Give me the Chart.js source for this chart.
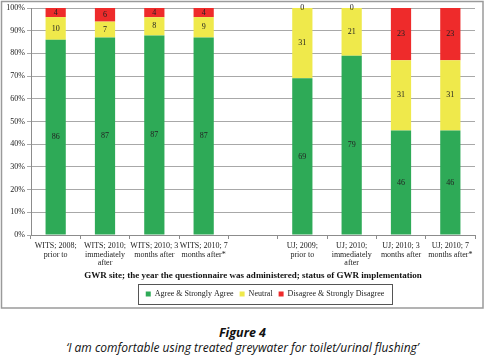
<!DOCTYPE html>
<html>
<head>
  <meta charset="utf-8" />
  <title>Figure 4</title>
  <script src="https://cdn.jsdelivr.net/npm/chart.js"></script>
  <style>
    html, body { margin: 0; padding: 0; background: #fff; }
    #wrap { position: relative; width: 485px; height: 358px; }
    #chartBox { position: absolute; left: 0; top: 0; width: 485px; height: 310px; }
    .cap { position: absolute; left: 0; width: 485px; text-align: center; font-family: "Open Sans", sans-serif; font-style: italic; color: #111; line-height: 16px; }
    #fig { top: 325px; font-size: 12.5px; font-weight: bold; }
    #sub { top: 340px; font-size: 12px; }
  </style>
</head>
<body>
<div id="wrap">
  <div id="chartBox"><canvas id="chart"></canvas></div>
  <div class="cap" id="fig">Figure 4</div>
  <div class="cap" id="sub">‘I am comfortable using treated greywater for toilet/urinal flushing’</div>
</div>
<script>
  const categories = [
    ['WITS; 2008;', 'prior to'],
    ['WITS; 2010;', 'immediately', 'after'],
    ['WITS; 2010; 3', 'months after'],
    ['WITS; 2010; 7', 'months after*'],
    '',
    ['UJ; 2009;', 'prior to'],
    ['UJ; 2010;', 'immediately', 'after'],
    ['UJ; 2010; 3', 'months after'],
    ['UJ; 2010; 7', 'months after*']
  ];
  const agree    = [86, 87, 87, 87, null, 69, 79, 46, 46];
  const neutral  = [10, 7, 8, 9, null, 31, 21, 31, 31];
  const disagree = [4, 6, 4, 4, null, 0, 0, 23, 23];

  const seriesNames = ['Agree & Strongly Agree', 'Neutral', 'Disagree & Strongly Disagree'];
  const seriesColors = ['#2eaa57', '#efe94b', '#ee2b2b'];

  // 100% stacked: each column is scaled to its own total
  const totals = agree.map((v, i) => v === null ? null : v + neutral[i] + disagree[i]);
  const pct = arr => arr.map((v, i) => v === null ? null : v / totals[i] * 100);
  const raw = [agree, neutral, disagree];

  const serif = '"Liberation Serif", "Times New Roman", serif';

  const decor = {
    id: 'decor',
    afterLayout(chart) {
      chart.legend.left += 12;
      chart.legend.right += 12;
    },
    afterDatasetsDraw(chart) {
      const ctx = chart.ctx;
      ctx.save();
      ctx.font = '8px ' + serif;
      ctx.fillStyle = '#222';
      ctx.textAlign = 'center';
      ctx.textBaseline = 'middle';
      chart.data.datasets.forEach((ds, di) => {
        chart.getDatasetMeta(di).data.forEach((el, i) => {
          const v = raw[di][i];
          if (v === null) return;
          ctx.fillText(String(v), el.x, (el.y + el.base) / 2);
        });
      });
      ctx.restore();
    },
    afterDraw(chart) {
      const ctx = chart.ctx;
      ctx.save();
      // outer frame
      ctx.strokeStyle = '#9a9a9a';
      ctx.lineWidth = 1.5;
      ctx.strokeRect(1.5, 1.5, 481.5, 306.5);
      // legend frame
      const boxes = chart.legend.legendHitBoxes;
      if (boxes && boxes.length) {
        const l = boxes[0].left - 8;
        const last = boxes[boxes.length - 1];
        const r = last.left + last.width + 8;
        const t = boxes[0].top - 6;
        const b = boxes[0].top + boxes[0].height + 6;
        ctx.strokeStyle = '#555';
        ctx.lineWidth = 1;
        ctx.strokeRect(Math.round(l) + 0.5, Math.round(t) + 0.5, Math.round(r - l), Math.round(b - t));
      }
      ctx.restore();
    }
  };

  new Chart(document.getElementById('chart'), {
    type: 'bar',
    data: {
      labels: categories,
      datasets: raw.map((arr, i) => ({
        label: seriesNames[i],
        data: pct(arr),
        backgroundColor: seriesColors[i],
        borderWidth: 0,
        categoryPercentage: 1,
        barPercentage: 0.41
      }))
    },
    options: {
      responsive: true,
      maintainAspectRatio: false,
      animation: false,
      layout: { padding: { left: 5, right: 10, top: 8, bottom: 2 } },
      scales: {
        x: {
          stacked: true,
          offset: true,
          grid: { offset: true, drawOnChartArea: false, tickLength: 4, color: '#8c8c8c' },
          border: { color: '#8c8c8c' },
          ticks: {
            autoSkip: false, maxRotation: 0, minRotation: 0, padding: 2,
            color: '#222', font: { family: serif, size: 8, lineHeight: 1.12 }
          },
          title: {
            display: true,
            text: 'GWR site; the year the questionnaire was administered; status of GWR implementation',
            color: '#111',
            font: { family: serif, size: 9, weight: 'bold' },
            padding: { top: 0, bottom: 3 }
          },
          afterFit(scale) { scale.height = 49; }
        },
        y: {
          stacked: true,
          min: 0, max: 100,
          ticks: {
            stepSize: 10, padding: 2,
            color: '#222', font: { family: serif, size: 8 },
            callback: v => v + '%'
          },
          grid: { color: '#a8a8a8', tickLength: 4 },
          border: { color: '#8c8c8c' },
          afterFit(scale) { scale.width = 26; }
        }
      },
      plugins: {
        legend: {
          position: 'bottom',
          fullSize: false,
          labels: {
            boxWidth: 5, boxHeight: 5, padding: 6,
            color: '#222', font: { family: serif, size: 8 }
          }
        },
        tooltip: { enabled: false }
      }
    },
    plugins: [decor]
  });
</script>
</body>
</html>
